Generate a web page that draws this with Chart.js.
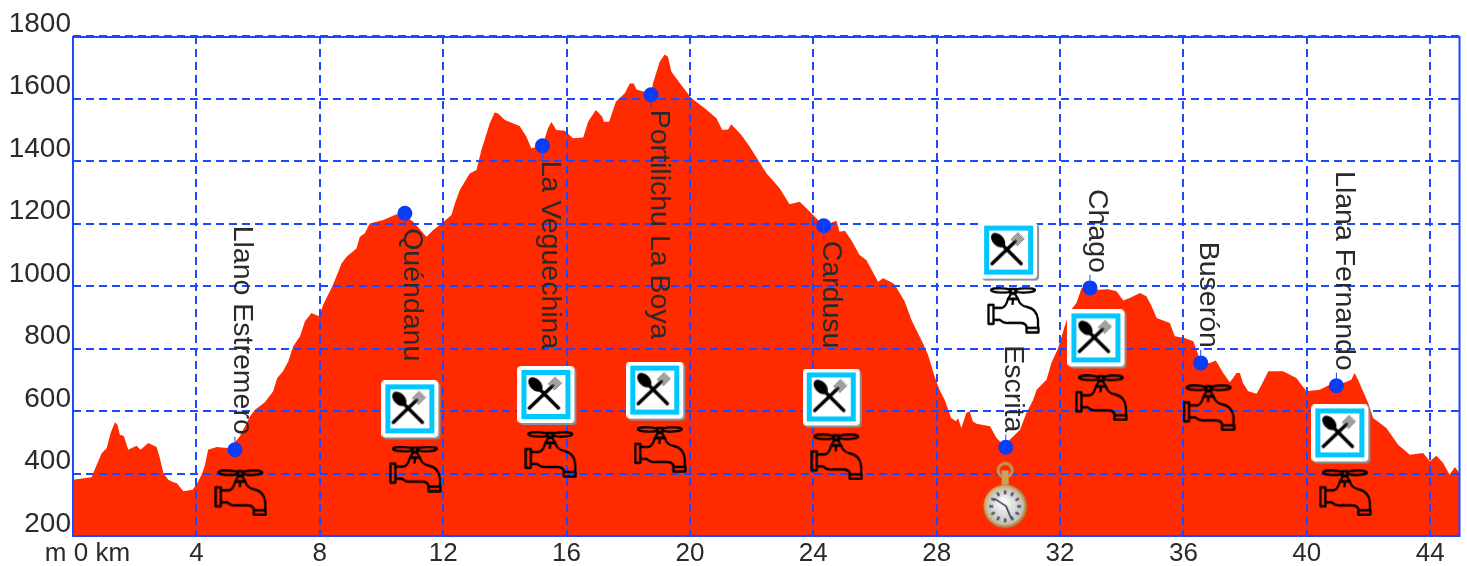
<!DOCTYPE html>
<html>
<head>
<meta charset="utf-8">
<title>Perfil</title>
<style>
  html, body { margin: 0; background: #fff; }
  canvas { display: block; }
</style>
<script src="https://cdn.jsdelivr.net/npm/chart.js@4"></script>
</head>
<body>
<canvas id="profile" width="1467" height="566"></canvas>
<script>
// elevation profile (km / m)
const profileKm = [0,0.6,0.77,0.93,1.09,1.22,1.36,1.44,1.52,1.65,1.79,2.06,2.19,2.44,2.71,2.8,2.93,3.09,3.25,3.36,3.58,3.88,4.03,4.17,4.28,4.38,4.66,5.09,5.41,5.74,5.9,6.22,6.49,6.62,6.81,6.98,7.14,7.36,7.52,7.73,7.98,8.11,8.27,8.43,8.71,8.87,9.19,9.3,9.46,9.62,10.06,10.49,10.76,11.03,11.46,11.68,11.95,12.27,12.38,12.54,12.86,13.08,13.24,13.51,13.67,13.78,14.0,14.48,14.7,14.86,15.22,15.4,15.51,15.67,15.94,16.21,16.54,16.7,16.95,17.16,17.21,17.38,17.6,17.89,18.05,18.18,18.27,18.54,18.74,18.8,19.02,19.18,19.29,19.4,19.72,20.05,20.48,20.86,21.05,21.24,21.34,21.67,21.94,22.21,22.48,22.91,23.23,23.56,23.94,24.34,24.75,24.85,25.02,25.23,25.5,25.72,26.1,26.26,26.58,26.64,26.96,27.18,27.55,27.72,27.93,28.09,28.26,28.47,28.63,28.69,28.8,28.96,29.07,29.17,29.29,29.73,29.94,30.24,30.37,30.7,30.91,31.13,31.24,31.56,31.72,31.94,32.15,32.32,32.53,32.7,32.97,33.24,33.56,33.83,34.05,34.26,34.59,34.8,34.97,35.13,35.56,35.72,36.04,36.32,36.48,36.56,36.85,37.05,37.29,37.5,37.61,37.72,37.83,37.93,38.1,38.37,38.53,38.75,39.23,39.66,39.99,40.42,40.74,40.96,41.44,41.55,41.66,41.99,42.15,42.58,42.96,43.34,43.77,43.99,44.2,44.42,44.63,44.8,44.95];
const profileM = [380,388,428,465,481,530,564,556,524,520,476,489,476,498,485,455,402,380,372,370,343,348,370,396,428,476,485,481,519,583,604,628,663,706,727,759,807,839,887,914,903,940,972,1004,1073,1094,1120,1158,1169,1200,1211,1230,1225,1206,1158,1179,1200,1227,1264,1307,1360,1371,1435,1520,1555,1552,1531,1512,1478,1441,1449,1505,1525,1499,1497,1473,1475,1526,1563,1542,1526,1526,1590,1617,1648,1648,1629,1621,1612,1648,1718,1741,1734,1686,1643,1601,1569,1537,1499,1501,1518,1483,1446,1403,1361,1313,1262,1270,1233,1193,1209,1174,1177,1147,1099,1083,1014,1025,1010,1004,951,892,818,780,711,668,636,578,567,578,546,594,599,567,559,551,514,484,508,540,594,636,668,700,754,802,871,919,946,994,994,988,990,983,954,962,978,967,935,898,882,839,834,823,780,754,754,762,722,692,706,722,722,690,663,655,683,727,727,706,663,668,684,681,700,722,700,626,578,546,492,460,466,439,457,434,396,421,402];

// named waypoints
const placeNames = ["Llano Estremero","Quéndanu","La Veguechina","Portilichu La Boya","Cardusu","Escrita","Chago","Buserón","Llana Fernando"];
const placeKm = [5.25,10.76,15.22,18.74,24.34,30.24,32.97,36.56,40.96];
const placeM = [476,1233,1449,1612,1193,484,994,754,681];
const labelAbove = [true,false,false,false,false,true,true,true,true];

// service icons
const foodKm = [10.97,15.38,18.91,24.63,30.38,33.21,41.12];
const foodM = [602,648,662,640,1110,829,525];
const tapKm = [5.44,11.10,15.49,19.04,24.76,30.49,33.34,36.83,41.25];
const tapM = [338,414,461,477,453,922,642,610,338];
const watchKm = [30.22];
const watchM = [330];

const xTickFirst = "    m 0 km";
const BLUE = "#1c48ff";

function toPoints(xs, ys) {
  return xs.map((x, i) => ({ x: x, y: ys[i] }));
}

function makeCanvas(w, h) {
  const c = document.createElement("canvas");
  c.width = w;
  c.height = h;
  return c;
}

function roundRect(ctx, x, y, w, h, r) {
  ctx.beginPath();
  ctx.roundRect(x, y, w, h, r);
}

function foodIcon() {
  const c = makeCanvas(60, 60);
  const ctx = c.getContext("2d");
  ctx.fillStyle = "#8f8f8f";
  roundRect(ctx, 2, 2, 57, 57, 4);
  ctx.fill();
  ctx.fillStyle = "#fff";
  roundRect(ctx, 0, 0, 57, 57, 4);
  ctx.fill();
  ctx.fillStyle = "#00c8ff";
  ctx.fillRect(4, 4, 49, 49);
  ctx.fillStyle = "#fff";
  ctx.fillRect(9, 9, 39, 39);

  ctx.strokeStyle = "#000";
  ctx.lineCap = "round";
  // spoon
  ctx.lineWidth = 3.5;
  ctx.beginPath();
  ctx.moveTo(20, 21);
  ctx.lineTo(41, 42);
  ctx.stroke();
  ctx.fillStyle = "#000";
  ctx.save();
  ctx.translate(18, 18.5);
  ctx.rotate(Math.PI / 4);
  ctx.beginPath();
  ctx.ellipse(0, 0, 8.5, 5.5, 0, 0, Math.PI * 2);
  ctx.fill();
  ctx.restore();
  // fork
  ctx.beginPath();
  ctx.moveTo(12, 42);
  ctx.lineTo(35, 20);
  ctx.stroke();
  ctx.lineWidth = 1;
  ctx.strokeStyle = "#444";
  for (let i = -3; i <= 3; i++) {
    ctx.beginPath();
    ctx.moveTo(34 + i, 21 + i);
    ctx.lineTo(41 + i, 14 + i);
    ctx.stroke();
  }
  return c;
}

function tapIcon() {
  const c = makeCanvas(53, 47);
  const ctx = c.getContext("2d");
  ctx.strokeStyle = "#000";
  ctx.lineWidth = 2.3;
  ctx.lineJoin = "round";
  // handle
  ctx.beginPath();
  ctx.ellipse(14, 3.5, 10, 2.2, 0.03, 0, Math.PI * 2);
  ctx.moveTo(48, 3.5);
  ctx.ellipse(38, 3.5, 10, 2.2, -0.03, 0, Math.PI * 2);
  ctx.stroke();
  ctx.strokeRect(23, 2, 6, 4);
  ctx.beginPath();
  ctx.moveTo(21, 12);
  ctx.lineTo(24, 7);
  ctx.lineTo(28, 7);
  ctx.lineTo(31, 12);
  ctx.closePath();
  ctx.stroke();
  // flange
  ctx.strokeRect(1.5, 18, 5, 19);
  // body
  ctx.beginPath();
  ctx.moveTo(6, 21);
  ctx.lineTo(15, 21);
  ctx.quadraticCurveTo(19, 20, 21, 12);
  ctx.lineTo(31, 12);
  ctx.quadraticCurveTo(33, 19, 40, 20);
  ctx.quadraticCurveTo(50, 22, 51, 33);
  ctx.lineTo(51, 41);
  ctx.moveTo(6, 33);
  ctx.lineTo(13, 33);
  ctx.quadraticCurveTo(17, 37, 22, 36);
  ctx.lineTo(33, 36);
  ctx.quadraticCurveTo(39, 36, 40, 41);
  ctx.stroke();
  ctx.strokeRect(39.5, 41, 12, 4.5);
  ctx.beginPath();
  ctx.moveTo(26, 12);
  ctx.lineTo(25.5, 18);
  ctx.stroke();
  return c;
}

function watchIcon() {
  const c = makeCanvas(46, 68);
  const ctx = c.getContext("2d");
  const cx = 23, cy = 45;
  // ring and crown
  ctx.strokeStyle = "#c4964f";
  ctx.lineWidth = 3;
  ctx.beginPath();
  ctx.arc(cx, 9, 7, 0, Math.PI * 2);
  ctx.stroke();
  ctx.fillStyle = "#cda35c";
  ctx.fillRect(cx - 3.5, 9, 7, 15);
  // case
  const gold = ctx.createRadialGradient(cx - 5, cy - 5, 10, cx, cy, 22);
  gold.addColorStop(0, "#e8cc92");
  gold.addColorStop(0.8, "#cfa764");
  gold.addColorStop(1, "#9a7038");
  ctx.fillStyle = gold;
  ctx.beginPath();
  ctx.arc(cx, cy, 22, 0, Math.PI * 2);
  ctx.fill();
  // face
  const face = ctx.createRadialGradient(cx - 2, cy - 4, 3, cx, cy, 19);
  face.addColorStop(0, "#f8f8f8");
  face.addColorStop(1, "#bdbdbd");
  ctx.fillStyle = face;
  ctx.beginPath();
  ctx.arc(cx, cy, 18.5, 0, Math.PI * 2);
  ctx.fill();
  // hour marks
  ctx.strokeStyle = "#555";
  ctx.lineWidth = 2.5;
  for (let i = 0; i < 12; i++) {
    const a = i * Math.PI / 6;
    ctx.beginPath();
    ctx.moveTo(cx + Math.cos(a) * 12, cy + Math.sin(a) * 12);
    ctx.lineTo(cx + Math.cos(a) * 16, cy + Math.sin(a) * 16);
    ctx.stroke();
  }
  // hands
  ctx.strokeStyle = "#1c2a44";
  ctx.lineWidth = 1.5;
  ctx.beginPath();
  ctx.moveTo(cx - 11, cy - 8);
  ctx.lineTo(cx + 1, cy);
  ctx.lineTo(cx + 6, cy + 12);
  ctx.stroke();
  return c;
}

const overlay = {
  id: "overlay",
  // grid has to sit on the red area but under the icons
  afterDatasetDraw(chart, args) {
    if (args.index === 0) {
      chart.scales.x.drawGrid(chart.chartArea);
      chart.scales.y.drawGrid(chart.chartArea);
    }
  },
  afterDatasetsDraw(chart) {
    const ctx = chart.ctx;
    const xs = chart.scales.x, ys = chart.scales.y;
    ctx.save();
    ctx.font = '28.5px "Liberation Sans"';
    ctx.fillStyle = "#2a2a2a";
    ctx.textBaseline = "alphabetic";
    placeNames.forEach((name, i) => {
      const px = xs.getPixelForValue(placeKm[i]);
      const py = ys.getPixelForValue(placeM[i]);
      const up = labelAbove[i];
      // little stem between marker and name
      ctx.strokeStyle = BLUE;
      ctx.lineWidth = 1;
      ctx.beginPath();
      ctx.moveTo(px, py);
      ctx.lineTo(px, py + (up ? -13 : 13));
      ctx.stroke();

      ctx.save();
      ctx.translate(px - 0.5, py + (up ? -15 : 15));
      ctx.rotate(Math.PI / 2);
      ctx.textAlign = up ? "right" : "left";
      ctx.fillText(name, 0, 0);
      ctx.restore();
    });
    ctx.restore();
  },
  afterDraw(chart) {
    const ctx = chart.ctx;
    const a = chart.chartArea;
    ctx.save();
    ctx.strokeStyle = BLUE;
    ctx.lineWidth = 2;
    ctx.strokeRect(a.left, a.top + 1, a.right - a.left, a.bottom - a.top - 1);
    ctx.restore();
  }
};

const iconDataset = (xs, ys, icon, order) => ({
  data: toPoints(xs, ys),
  showLine: false,
  pointStyle: icon,
  pointRadius: 1,
  order: order
});

new Chart(document.getElementById("profile"), {
  type: "line",
  data: {
    datasets: [
      {
        data: toPoints(profileKm, profileM),
        backgroundColor: "#ff2a00",
        borderWidth: 0,
        fill: "start",
        pointRadius: 0,
        tension: 0,
        order: 9
      },
      {
        data: toPoints(placeKm, placeM),
        showLine: false,
        pointStyle: "circle",
        pointRadius: 7.5,
        backgroundColor: "#0a3cf5",
        borderWidth: 0,
        order: 1
      },
      iconDataset(foodKm, foodM, foodIcon(), 2),
      iconDataset(tapKm, tapM, tapIcon(), 3),
      iconDataset(watchKm, watchM, watchIcon(), 4)
    ]
  },
  options: {
    responsive: false,
    animation: false,
    layout: { padding: { top: 36, right: 7, left: 0, bottom: 0 } },
    plugins: { legend: { display: false }, tooltip: { enabled: false } },
    scales: {
      x: {
        type: "linear",
        min: 0,
        max: 44.95,
        afterFit(scale) {
          scale.height = 30;
          scale.paddingLeft = 0;
          scale.paddingRight = 0;
        },
        border: { display: false, dash: [8, 5] },
        grid: { color: BLUE, lineWidth: 2, drawTicks: false, tickLength: 0 },
        ticks: {
          stepSize: 4,
          includeBounds: false,
          autoSkip: false,
          maxRotation: 0,
          padding: 2,
          color: "#2a2a2a",
          font: { family: "Liberation Sans", size: 26 },
          callback: v => (v === 0 ? xTickFirst : String(v))
        }
      },
      y: {
        min: 200,
        max: 1800,
        afterFit(scale) {
          scale.width = 73;
          scale.paddingTop = 0;
          scale.paddingBottom = 0;
        },
        border: { display: false, dash: [8, 5] },
        grid: { color: BLUE, lineWidth: 2, drawTicks: false, tickLength: 0 },
        ticks: {
          stepSize: 200,
          padding: 2,
          labelOffset: -12,
          color: "#2a2a2a",
          font: { family: "Liberation Sans", size: 28 },
          callback: v => String(v)
        }
      }
    }
  },
  plugins: [overlay]
});
</script>
</body>
</html>
